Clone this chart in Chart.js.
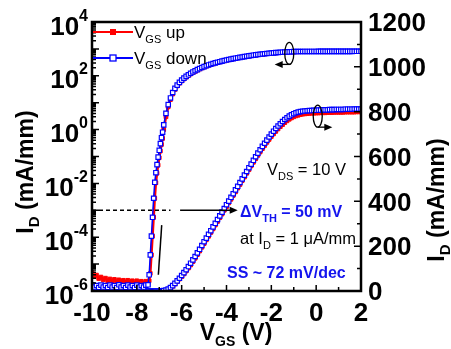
<!DOCTYPE html>
<html>
<head>
<meta charset="utf-8">
<script src="https://cdn.jsdelivr.net/npm/chart.js@4.4.0/dist/chart.umd.min.js"></script>
<style>
  html, body { margin: 0; padding: 0; background: #fff; }
  canvas { display: block; }
</style>
</head>
<body>
<canvas id="transfer" width="451" height="349"></canvas>
<script>
// gate sweep (V)
const vgs = [
  -10.0, -9.9, -9.8, -9.7, -9.6, -9.5, -9.4, -9.3, -9.2, -9.1,
  -9.0, -8.9, -8.8, -8.7, -8.6, -8.5, -8.4, -8.3, -8.2, -8.1,
  -8.0, -7.9, -7.8, -7.7, -7.6, -7.5,
  -7.45, -7.4, -7.35, -7.3, -7.25, -7.2, -7.15, -7.1, -7.05, -7.0, -6.95, -6.9, -6.85,
  -6.8, -6.7, -6.6, -6.5, -6.4, -6.3, -6.2, -6.1,
  -6.0, -5.9, -5.8, -5.7, -5.6, -5.5, -5.4, -5.3, -5.2, -5.1,
  -5.0, -4.9, -4.8, -4.7, -4.6, -4.5, -4.4, -4.3, -4.2, -4.1,
  -4.0, -3.9, -3.8, -3.7, -3.6, -3.5, -3.4, -3.3, -3.2, -3.1,
  -3.0, -2.9, -2.8, -2.7, -2.6, -2.5, -2.4, -2.3, -2.2, -2.1,
  -2.0, -1.9, -1.8, -1.7, -1.6, -1.5, -1.4, -1.3, -1.2, -1.1,
  -1.0, -0.9, -0.8, -0.7, -0.6, -0.5, -0.4, -0.3, -0.2, -0.1,
  0.0, 0.1, 0.2, 0.3, 0.4, 0.5, 0.6, 0.7, 0.8, 0.9,
  1.0, 1.1, 1.2, 1.3, 1.4, 1.5, 1.6, 1.7, 1.8, 1.9, 2.0
];

// drain current, forward sweep (mA/mm)
const idUp = [
  4.8e-6, 3.4e-6, 3.9e-6, 2.9e-6, 3.3e-6, 2.6e-6, 3.0e-6, 2.4e-6, 2.8e-6, 2.3e-6,
  2.7e-6, 2.2e-6, 2.6e-6, 2.2e-6, 2.5e-6, 2.1e-6, 2.5e-6, 2.1e-6, 2.4e-6, 2.0e-6,
  2.4e-6, 2.0e-6, 2.3e-6, 2.0e-6, 2.3e-6, 2.1e-6,
  2.4e-6, 4.5e-6, 2.2e-5, 1.1e-4, 5.5e-4, 2.8e-3, 1.05e-2, 2.4e-2, 4.8e-2, 9e-2, 0.16, 0.28, 0.47,
  1.0, 3.0, 7.0, 13, 21, 31, 42, 53,
  64, 76, 89, 102, 116, 131, 146, 162, 178, 195,
  211, 228, 244, 261, 277, 294, 310, 327, 343, 360,
  376, 393, 409, 426, 442, 459, 475, 492, 508, 525,
  541, 558, 574, 590, 605, 620, 635, 649, 663, 676,
  689, 701, 712, 723, 733, 742, 751, 759, 766, 772,
  777, 781, 784, 787, 789, 790, 791, 792, 793, 793,
  794, 794, 795, 795, 795, 796, 796, 796, 797, 797,
  797, 797, 797, 798, 798, 798, 798, 798, 799, 799, 799
];

// drain current, reverse sweep (mA/mm)
const idDown = [
  1.7e-6, 1.4e-6, 1.6e-6, 1.35e-6, 1.65e-6, 1.4e-6, 1.6e-6, 1.35e-6, 1.65e-6, 1.4e-6,
  1.6e-6, 1.35e-6, 1.7e-6, 1.4e-6, 1.6e-6, 1.35e-6, 1.65e-6, 1.4e-6, 1.6e-6, 1.35e-6,
  1.65e-6, 1.4e-6, 1.6e-6, 1.4e-6, 1.65e-6, 1.7e-6,
  4e-6, 2.2e-5, 1.1e-4, 5.5e-4, 2.8e-3, 1.1e-2, 2.5e-2, 5e-2, 9.5e-2, 0.17, 0.3, 0.5, 0.8,
  1.5, 4, 8.5, 15, 24, 34, 45, 57,
  69, 82, 95, 109, 124, 139, 154, 170, 186, 203,
  220, 236, 253, 269, 286, 302, 319, 335, 352, 368,
  385, 401, 418, 434, 451, 467, 484, 500, 517, 533,
  550, 566, 583, 599, 615, 630, 645, 659, 673, 687,
  700, 713, 725, 736, 746, 756, 765, 773, 780, 786,
  791, 795, 798, 800, 802, 803, 804, 805, 805, 806,
  806, 807, 807, 808, 808, 808, 809, 809, 809, 810,
  810, 810, 810, 811, 811, 811, 811, 812, 812, 812, 812
];

// axis ticks
const vTicks = [-10, -8, -6, -4, -2, 0, 2];
const logExps = [-6, -4, -2, 0, 2, 4];
const linTicks = [0, 200, 400, 600, 800, 1000, 1200];

// threshold marker at 1 uA/mm
const vthLevel = 1e-3;
const dashStart = -10, dashEnd = -6.5;
const arrowStart = -6.07, arrowEnd = -3.5;
// subthreshold slope guide
const ssLineV = [-7.04, -6.89];
const ssLineI = [4e-6, 2.8e-4];

const RED = '#ff0000';
const BLUE = '#0000ff';
const TXTBLUE = '#1414ee';
const FONT = '"Liberation Sans", Arial, sans-serif';

function pts(ys) {
  return vgs.map((v, i) => ({ x: v, y: ys[i] }));
}

function fnt(size, bold) {
  return (bold ? 'bold ' : '') + size + 'px ' + FONT;
}

function richWidth(ctx, parts) {
  let w = 0;
  parts.forEach(p => { ctx.font = p.font; w += ctx.measureText(p.t).width; });
  return w;
}

function drawRich(ctx, parts, x, y, align) {
  const w = richWidth(ctx, parts);
  let cx = align === 'center' ? x - w / 2 : (align === 'right' ? x - w : x);
  ctx.textAlign = 'left';
  ctx.textBaseline = 'alphabetic';
  parts.forEach(p => {
    ctx.font = p.font;
    ctx.fillStyle = p.color || '#000';
    ctx.fillText(p.t, cx, y + (p.dy || 0));
    cx += ctx.measureText(p.t).width;
  });
}

function arrowHead(ctx, x, y, dir) {
  ctx.beginPath();
  ctx.moveTo(x, y);
  ctx.lineTo(x - dir * 8, y - 3.5);
  ctx.lineTo(x - dir * 8, y + 3.5);
  ctx.closePath();
  ctx.fill();
}

const blueSeries = {
  borderColor: BLUE, borderWidth: 1.5, pointStyle: 'rect', pointRadius: 3.1,
  pointBackgroundColor: '#fff', pointBorderColor: BLUE, pointBorderWidth: 1.2
};
const redSeries = {
  borderColor: RED, borderWidth: 2.5, pointStyle: 'rect', pointRadius: 2.6,
  pointBackgroundColor: RED, pointBorderColor: RED, pointBorderWidth: 1
};

const decorations = {
  id: 'decorations',
  afterDatasetsDraw(chart) {
    const { ctx, chartArea: a, scales } = chart;
    const sx = scales.x, sl = scales.y, sr = scales.y2;
    ctx.save();
    ctx.strokeStyle = '#000';
    ctx.fillStyle = '#000';

    // threshold arrow
    const ay = sl.getPixelForValue(vthLevel);
    const ax1 = sx.getPixelForValue(arrowStart), ax2 = sx.getPixelForValue(arrowEnd);
    ctx.lineWidth = 1.4;
    ctx.beginPath(); ctx.moveTo(ax1, ay); ctx.lineTo(ax2 - 4, ay); ctx.stroke();
    arrowHead(ctx, ax2, ay, 1);

    // axis marker loops
    const e1x = sx.getPixelForValue(-1.2), e1y = sl.getPixelForValue(680);
    ctx.lineWidth = 1.3;
    ctx.beginPath(); ctx.ellipse(e1x, e1y, 4.5, 11, 0, 0, Math.PI * 2); ctx.stroke();
    const t1 = sx.getPixelForValue(-1.85);
    ctx.beginPath(); ctx.moveTo(e1x + 1, e1y + 11); ctx.lineTo(t1 + 4, e1y + 11); ctx.stroke();
    arrowHead(ctx, t1, e1y + 11, -1);

    const e2x = sx.getPixelForValue(0.07), e2y = sr.getPixelForValue(780);
    ctx.beginPath(); ctx.ellipse(e2x, e2y, 4.5, 11, 0, 0, Math.PI * 2); ctx.stroke();
    const t2 = sx.getPixelForValue(0.72);
    ctx.beginPath(); ctx.moveTo(e2x, e2y + 11); ctx.lineTo(t2 - 4, e2y + 11); ctx.stroke();
    arrowHead(ctx, t2, e2y + 11, 1);

    // frame
    ctx.lineWidth = 2.5;
    ctx.strokeRect(a.left, a.top, a.right - a.left, a.bottom - a.top);

    // inward ticks
    ctx.lineWidth = 1.5;
    ctx.beginPath();
    for (let e = -6; e <= 4; e++) {
      for (let m = 1; m <= 9; m++) {
        if (e === 4 && m > 1) break;
        const py = sl.getPixelForValue(m * Math.pow(10, e));
        ctx.moveTo(a.left, py); ctx.lineTo(a.left + (m === 1 ? 7 : 4), py);
      }
    }
    for (let v = -10; v <= 2; v++) {
      const px = sx.getPixelForValue(v);
      ctx.moveTo(px, a.bottom); ctx.lineTo(px, a.bottom - (v % 2 === 0 ? 6 : 4));
    }
    for (let v = 0; v <= 1200; v += 100) {
      const py = sr.getPixelForValue(v);
      ctx.moveTo(a.right, py); ctx.lineTo(a.right - (v % 200 === 0 ? 7 : 4), py);
    }
    ctx.stroke();

    // tick labels
    logExps.forEach(e => {
      const py = sl.getPixelForValue(Math.pow(10, e));
      drawRich(ctx, [
        { t: '10', font: fnt(26, true) },
        { t: String(e), font: fnt(16, true), dy: -14 }
      ], 88, py + 12.5, 'right');
    });
    ctx.font = fnt(26, true);
    ctx.textBaseline = 'alphabetic';
    linTicks.forEach(v => {
      ctx.textAlign = 'left';
      ctx.fillText(String(v), 368, sr.getPixelForValue(v) + 9.3);
    });
    vTicks.forEach(v => {
      ctx.textAlign = 'center';
      ctx.fillText(String(v), sx.getPixelForValue(v), 320.5);
    });

    // axis titles
    drawRich(ctx, [
      { t: 'V', font: fnt(23, true) },
      { t: 'GS', font: fnt(14, true), dy: 6 },
      { t: ' (V)', font: fnt(23, true) }
    ], 236, 340, 'center');

    const title = [
      { t: 'I', font: fnt(23, true) },
      { t: 'D', font: fnt(15, true), dy: 6 },
      { t: ' (mA/mm)', font: fnt(23, true) }
    ];
    ctx.save();
    ctx.translate(33, 172); ctx.rotate(-Math.PI / 2);
    drawRich(ctx, title, 0, 0, 'center');
    ctx.restore();
    ctx.save();
    ctx.translate(444, 200); ctx.rotate(-Math.PI / 2);
    drawRich(ctx, title, 0, 0, 'center');
    ctx.restore();

    // legend
    ctx.lineWidth = 2;
    ctx.strokeStyle = RED;
    ctx.beginPath(); ctx.moveTo(93, 32); ctx.lineTo(133, 32); ctx.stroke();
    ctx.fillStyle = RED;
    ctx.fillRect(110, 29, 6, 6);
    ctx.strokeStyle = BLUE;
    ctx.beginPath(); ctx.moveTo(93, 58); ctx.lineTo(133, 58); ctx.stroke();
    ctx.fillStyle = '#fff';
    ctx.fillRect(110, 55, 6, 6);
    ctx.lineWidth = 1.3;
    ctx.strokeRect(110, 55, 6, 6);
    drawRich(ctx, [
      { t: 'V', font: fnt(17) }, { t: 'GS', font: fnt(11), dy: 5 }, { t: ' up', font: fnt(17) }
    ], 134, 38, 'left');
    drawRich(ctx, [
      { t: 'V', font: fnt(17) }, { t: 'GS', font: fnt(11), dy: 5 }, { t: ' down', font: fnt(17) }
    ], 134, 64, 'left');

    // notes
    drawRich(ctx, [
      { t: 'V', font: fnt(16.5) }, { t: 'DS', font: fnt(11), dy: 5 }, { t: ' = 10 V', font: fnt(16.5) }
    ], 267, 175, 'left');
    drawRich(ctx, [
      { t: '\u0394V', font: fnt(16, true), color: TXTBLUE },
      { t: 'TH', font: fnt(11, true), dy: 5, color: TXTBLUE },
      { t: ' = 50 mV', font: fnt(16, true), color: TXTBLUE }
    ], 240, 217, 'left');
    drawRich(ctx, [
      { t: 'at I', font: fnt(16.5) }, { t: 'D', font: fnt(11), dy: 5 }, { t: ' = 1 \u03bcA/mm', font: fnt(16.5) }
    ], 240, 244, 'left');
    drawRich(ctx, [
      { t: 'SS ~ 72 mV/dec', font: fnt(16, true), color: TXTBLUE }
    ], 227, 278, 'left');

    ctx.restore();
  }
};

new Chart(document.getElementById('transfer'), {
  type: 'line',
  data: {
    datasets: [
      { data: [{ x: dashStart, y: vthLevel }, { x: dashEnd, y: vthLevel }], yAxisID: 'y',
        borderColor: '#000', borderWidth: 1.5, borderDash: [4, 3], pointRadius: 0 },
      { data: ssLineV.map((v, i) => ({ x: v, y: ssLineI[i] })), yAxisID: 'y',
        borderColor: '#000', borderWidth: 1.5, pointRadius: 0 },
      Object.assign({ data: pts(idDown), yAxisID: 'y' }, blueSeries),
      Object.assign({ data: pts(idDown), yAxisID: 'y2' }, blueSeries),
      Object.assign({ data: pts(idUp), yAxisID: 'y' }, redSeries),
      Object.assign({ data: pts(idUp), yAxisID: 'y2' }, redSeries)
    ]
  },
  options: {
    responsive: false,
    animation: false,
    events: [],
    layout: { padding: { left: 92, right: 90, top: 22, bottom: 58 } },
    plugins: { legend: { display: false }, tooltip: { enabled: false } },
    scales: {
      x: { type: 'linear', min: -10, max: 2, display: false },
      y: { type: 'logarithmic', min: 1e-6, max: 1e4, display: false },
      y2: { type: 'linear', min: 0, max: 1200, display: false }
    }
  },
  plugins: [decorations]
});
</script>
</body>
</html>
